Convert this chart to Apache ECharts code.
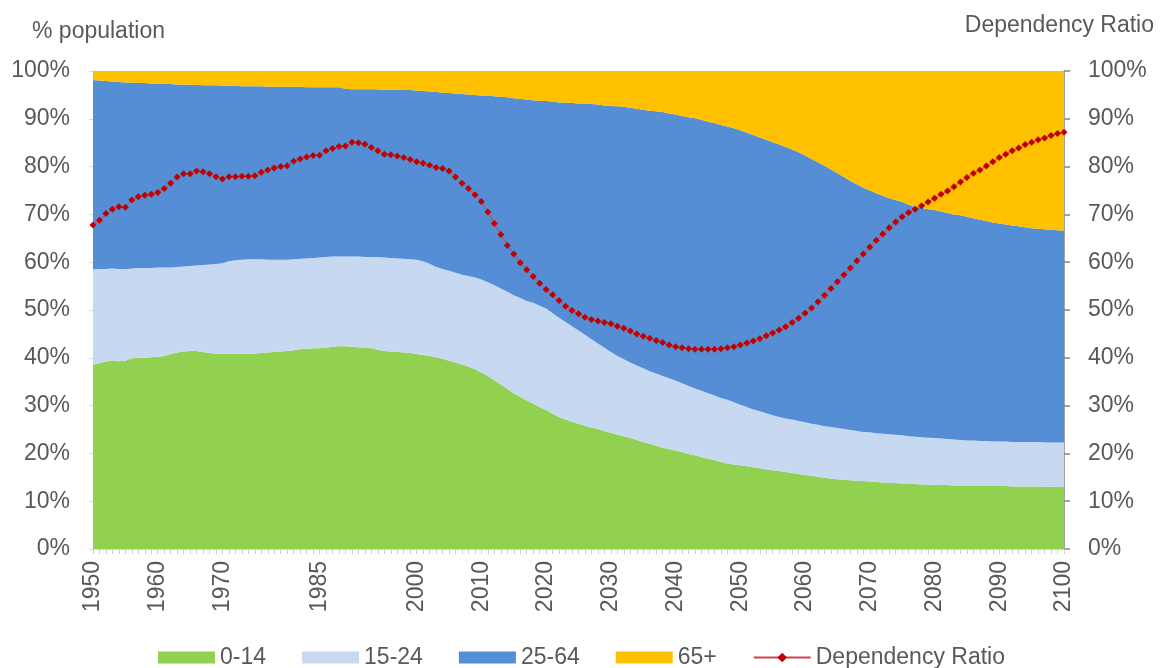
<!DOCTYPE html>
<html>
<head>
<meta charset="utf-8">
<title>Population by age group and dependency ratio</title>
<script src="https://cdn.jsdelivr.net/npm/echarts@6/dist/echarts.min.js"></script>
<style>
  html, body { margin: 0; padding: 0; background: #fff; }
  #chart { width: 1163px; height: 668px; }
</style>
</head>
<body>
<div id="chart"></div>
<script>
// years 1950..2100, one point per year
var years = [];
for (var y = 1950; y <= 2100; y++) years.push(String(y));

// x labels that are printed on the axis
var shownYears = ['1950', '1960', '1970', '1985', '2000', '2010', '2020', '2030', '2040',
  '2050', '2060', '2070', '2080', '2090', '2100'];

var pct0to14 = [
  38.5, 38.9, 39.2, 39.4, 39.3, 39.4, 39.9, 40.0, 40.0, 40.1,
  40.2, 40.4, 40.8, 41.1, 41.3, 41.4, 41.4, 41.2, 41.0, 40.9,
  40.8, 40.8, 40.8, 40.8, 40.8, 40.9, 41.0, 41.1, 41.2, 41.3,
  41.4, 41.6, 41.8, 41.9, 42.0, 42.0, 42.1, 42.3, 42.4, 42.4,
  42.3, 42.2, 42.1, 42.0, 41.7, 41.4, 41.3, 41.2, 41.1, 41.0,
  40.8, 40.6, 40.4, 40.1, 39.8, 39.4, 39.0, 38.6, 38.2, 37.6,
  36.9, 36.2, 35.3, 34.4, 33.5, 32.6, 31.8, 31.1, 30.4, 29.7,
  29.1, 28.3, 27.6, 27.1, 26.6, 26.2, 25.8, 25.4, 25.1, 24.7,
  24.3, 23.9, 23.6, 23.2, 22.8, 22.4, 22.0, 21.6, 21.2, 20.9,
  20.6, 20.3, 19.9, 19.6, 19.2, 18.9, 18.6, 18.2, 17.9, 17.7,
  17.5, 17.3, 17.1, 16.9, 16.7, 16.5, 16.3, 16.1, 15.9, 15.7,
  15.5, 15.3, 15.1, 14.9, 14.7, 14.6, 14.5, 14.4, 14.3, 14.2,
  14.1, 14.0, 13.9, 13.8, 13.8, 13.7, 13.6, 13.6, 13.5, 13.5,
  13.4, 13.4, 13.4, 13.3, 13.3, 13.3, 13.3, 13.2, 13.2, 13.2,
  13.2, 13.2, 13.1, 13.1, 13.1, 13.1, 13.1, 13.0, 13.0, 13.0,
  13.0
];

var pct15to24 = [
  20.0, 19.7, 19.4, 19.3, 19.3, 19.1, 18.8, 18.8, 18.8, 18.7,
  18.7, 18.5, 18.1, 17.9, 17.8, 17.8, 17.9, 18.2, 18.5, 18.7,
  19.0, 19.4, 19.6, 19.7, 19.8, 19.7, 19.6, 19.4, 19.3, 19.2,
  19.1, 19.0, 18.9, 18.9, 18.9, 19.0, 19.0, 18.9, 18.8, 18.8,
  18.9, 19.0, 19.0, 19.1, 19.4, 19.6, 19.6, 19.6, 19.6, 19.6,
  19.7, 19.6, 19.3, 18.9, 18.8, 18.8, 18.8, 18.8, 18.9, 19.2,
  19.5, 19.6, 19.9, 20.1, 20.3, 20.5, 20.7, 20.8, 21.1, 21.2,
  21.2, 21.0, 20.8, 20.4, 20.0, 19.5, 19.0, 18.5, 17.9, 17.4,
  16.9, 16.5, 16.1, 15.8, 15.6, 15.4, 15.2, 15.1, 15.0, 14.8,
  14.6, 14.4, 14.2, 14.0, 13.9, 13.7, 13.5, 13.4, 13.3, 13.0,
  12.7, 12.4, 12.1, 11.9, 11.7, 11.5, 11.3, 11.2, 11.2, 11.1,
  11.0, 10.9, 10.9, 10.8, 10.8, 10.7, 10.6, 10.5, 10.4, 10.3,
  10.3, 10.2, 10.2, 10.2, 10.1, 10.1, 10.0, 9.9, 9.9, 9.8,
  9.8, 9.7, 9.6, 9.6, 9.5, 9.4, 9.4, 9.4, 9.4, 9.3,
  9.3, 9.3, 9.3, 9.3, 9.3, 9.3, 9.3, 9.3, 9.3, 9.3,
  9.3
];

var pct25to64 = [
  39.6, 39.4, 39.3, 39.1, 39.1, 39.1, 38.9, 38.7, 38.7, 38.6,
  38.5, 38.4, 38.4, 38.2, 38.1, 37.9, 37.8, 37.6, 37.5, 37.4,
  37.1, 36.7, 36.5, 36.3, 36.2, 36.2, 36.2, 36.2, 36.2, 36.2,
  36.2, 36.1, 36.0, 35.8, 35.7, 35.6, 35.5, 35.4, 35.4, 35.1,
  35.0, 35.0, 35.1, 35.1, 35.1, 35.1, 35.2, 35.3, 35.3, 35.4,
  35.4, 35.6, 36.0, 36.6, 36.9, 37.2, 37.5, 37.8, 38.0, 38.2,
  38.5, 39.0, 39.5, 40.1, 40.7, 41.2, 41.7, 42.1, 42.4, 42.9,
  43.4, 44.3, 45.0, 45.9, 46.7, 47.5, 48.4, 49.2, 50.0, 50.7,
  51.5, 52.2, 52.8, 53.3, 53.7, 54.1, 54.5, 54.9, 55.2, 55.4,
  55.7, 55.9, 56.2, 56.5, 56.7, 56.8, 57.0, 57.1, 57.2, 57.3,
  57.4, 57.4, 57.4, 57.3, 57.2, 57.1, 57.0, 56.8, 56.5, 56.2,
  55.8, 55.4, 54.9, 54.5, 53.9, 53.3, 52.7, 52.1, 51.6, 51.1,
  50.6, 50.2, 49.8, 49.4, 49.1, 48.8, 48.4, 48.1, 48.0, 47.8,
  47.7, 47.5, 47.3, 47.1, 47.0, 46.8, 46.5, 46.3, 46.0, 45.8,
  45.6, 45.4, 45.3, 45.1, 44.9, 44.7, 44.6, 44.6, 44.5, 44.4,
  44.3
];

var pct65plus = [
  1.9, 2.0, 2.1, 2.2, 2.3, 2.4, 2.4, 2.5, 2.5, 2.6,
  2.6, 2.7, 2.7, 2.8, 2.8, 2.9, 2.9, 3.0, 3.0, 3.0,
  3.1, 3.1, 3.1, 3.2, 3.2, 3.2, 3.2, 3.3, 3.3, 3.3,
  3.3, 3.3, 3.3, 3.4, 3.4, 3.4, 3.4, 3.4, 3.4, 3.7,
  3.8, 3.8, 3.8, 3.8, 3.8, 3.9, 3.9, 3.9, 4.0, 4.0,
  4.1, 4.2, 4.3, 4.4, 4.5, 4.6, 4.7, 4.8, 4.9, 5.0,
  5.1, 5.2, 5.3, 5.4, 5.5, 5.7, 5.8, 6.0, 6.1, 6.2,
  6.3, 6.4, 6.6, 6.6, 6.7, 6.8, 6.8, 6.9, 7.0, 7.2,
  7.3, 7.4, 7.5, 7.7, 7.9, 8.1, 8.3, 8.4, 8.6, 8.9,
  9.1, 9.4, 9.7, 9.9, 10.2, 10.6, 10.9, 11.3, 11.6, 12.0,
  12.4, 12.9, 13.4, 13.9, 14.4, 14.9, 15.4, 15.9, 16.4, 17.0,
  17.7, 18.4, 19.1, 19.8, 20.6, 21.4, 22.2, 23.0, 23.7, 24.4,
  25.0, 25.6, 26.1, 26.6, 27.0, 27.4, 28.0, 28.4, 28.6, 28.9,
  29.1, 29.4, 29.7, 30.0, 30.2, 30.5, 30.8, 31.1, 31.4, 31.7,
  31.9, 32.1, 32.3, 32.5, 32.7, 32.9, 33.0, 33.1, 33.2, 33.3,
  33.4
];

var dependencyRatio = [
  67.8, 68.8, 70.2, 71.1, 71.6, 71.5, 73.0, 73.7, 74.0, 74.2,
  74.6, 75.4, 76.5, 77.8, 78.5, 78.5, 79.1, 78.9, 78.5, 77.9,
  77.4, 77.9, 77.9, 78.0, 78.0, 78.1, 78.8, 79.3, 79.7, 80.0,
  80.2, 81.1, 81.6, 82.0, 82.3, 82.4, 83.3, 83.8, 84.2, 84.3,
  85.1, 85.0, 84.7, 84.0, 83.3, 82.6, 82.5, 82.2, 81.9, 81.5,
  81.0, 80.7, 80.3, 79.8, 79.6, 79.1, 77.8, 76.5, 75.4, 74.1,
  72.7, 70.5, 68.1, 65.8, 63.5, 61.7, 59.9, 58.4, 57.0, 55.6,
  54.3, 53.2, 52.0, 50.8, 49.9, 49.2, 48.5, 48.0, 47.7, 47.4,
  47.1, 46.6, 46.2, 45.6, 45.0, 44.5, 44.1, 43.6, 43.2, 42.7,
  42.3, 42.1, 41.9, 41.8, 41.8, 41.8, 41.8, 41.9, 42.1, 42.3,
  42.7, 43.1, 43.5, 44.0, 44.6, 45.2, 45.8, 46.5, 47.4, 48.3,
  49.3, 50.4, 51.7, 53.1, 54.5, 55.9, 57.4, 58.8, 60.3, 61.7,
  63.2, 64.6, 65.9, 67.2, 68.4, 69.5, 70.4, 71.1, 71.8, 72.6,
  73.4, 74.2, 74.9, 75.8, 76.8, 77.7, 78.6, 79.3, 80.1, 81.0,
  81.9, 82.6, 83.3, 83.9, 84.6, 85.1, 85.6, 86.0, 86.5, 86.9,
  87.2
];

var textColor = '#595959';
var fontFamily = '"Liberation Sans", Arial, sans-serif';
var fs = 23;

function areaSeries(name, data, color) {
  return {
    name: name,
    type: 'line',
    stack: 'pop',
    data: data,
    symbol: 'none',
    lineStyle: { width: 0 },
    itemStyle: { color: color },
    areaStyle: { color: color, opacity: 1 },
    emphasis: { disabled: true }
  };
}

var chart = echarts.init(document.getElementById('chart'));

var option = {
  animation: false,
  textStyle: { fontFamily: fontFamily, color: textColor },
  title: [
    { text: '% population', left: 27, top: 15,
      textStyle: { fontSize: fs, fontWeight: 'normal', color: textColor, fontFamily: fontFamily } },
    { text: 'Dependency Ratio', right: 4, top: 9,
      textStyle: { fontSize: fs, fontWeight: 'normal', color: textColor, fontFamily: fontFamily } }
  ],
  legend: {
    top: 641,
    left: 'center',
    itemWidth: 57,
    itemHeight: 12,
    itemGap: 36,
    textStyle: { fontSize: fs, color: textColor, fontFamily: fontFamily },
    data: [
      { name: '0-14', icon: 'rect' },
      { name: '15-24', icon: 'rect' },
      { name: '25-64', icon: 'rect' },
      { name: '65+', icon: 'rect' },
      { name: 'Dependency Ratio' }
    ]
  },
  grid: { left: 93, right: 99, top: 71, bottom: 119, outerBoundsMode: 'none' },
  xAxis: {
    type: 'category',
    data: years,
    boundaryGap: false,
    axisLine: { lineStyle: { color: '#d9d9d9', width: 1 } },
    axisTick: { show: true, interval: 0, length: 5, lineStyle: { color: '#d0d0d0' } },
    axisLabel: {
      rotate: 90,
      margin: 12,
      fontSize: fs,
      color: textColor,
      fontFamily: fontFamily,
      interval: function (idx, val) { return shownYears.indexOf(val) >= 0; }
    },
    splitLine: { show: false }
  },
  yAxis: [
    {
      type: 'value', min: 0, max: 100, interval: 10,
      axisLine: { show: true, lineStyle: { color: '#d9d9d9' } },
      axisTick: { show: true, length: 4, lineStyle: { color: '#d9d9d9' } },
      axisLabel: { formatter: '{value}%', fontSize: fs, color: textColor, margin: 23, fontFamily: fontFamily },
      splitLine: { show: false }
    },
    {
      type: 'value', min: 0, max: 100, interval: 10, position: 'right',
      axisLine: { show: true, lineStyle: { color: '#868686', width: 1.5 } },
      axisTick: { show: true, length: 6, lineStyle: { color: '#868686', width: 1.5 } },
      axisLabel: { formatter: '{value}%', fontSize: fs, color: textColor, margin: 24, fontFamily: fontFamily },
      splitLine: { show: false }
    }
  ],
  series: [
    areaSeries('0-14', pct0to14, '#92D050'),
    areaSeries('15-24', pct15to24, '#C6D9F1'),
    areaSeries('25-64', pct25to64, '#558ED5'),
    areaSeries('65+', pct65plus, '#FFC000'),
    {
      name: 'Dependency Ratio',
      type: 'line',
      yAxisIndex: 1,
      data: dependencyRatio,
      symbol: 'diamond',
      symbolSize: 7,
      showSymbol: true,
      showAllSymbol: true,
      lineStyle: { color: '#D2404D', width: 1 },
      itemStyle: { color: '#C00000' },
      emphasis: { disabled: true },
      z: 5
    }
  ]
};

chart.setOption(option);
</script>
</body>
</html>
